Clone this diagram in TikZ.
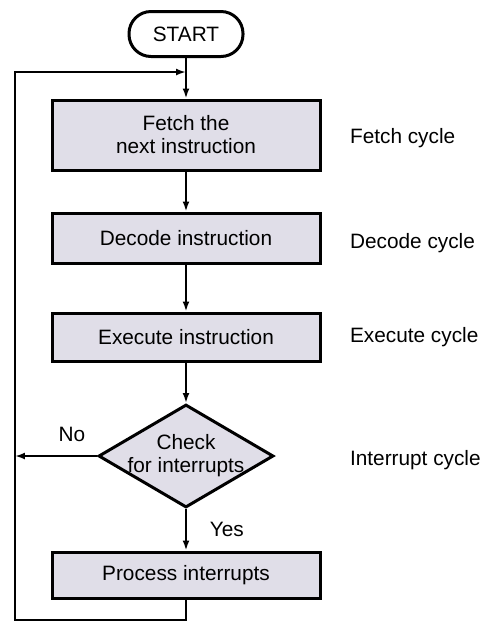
\documentclass[tikz,border=0pt]{standalone}
\usepackage{fontspec}
\setmainfont{Liberation Sans}
\usetikzlibrary{shapes.geometric,arrows.meta}
\definecolor{boxfill}{RGB}{224,222,232}
\begin{document}
\begin{tikzpicture}[x=0.5pt, y=-0.5pt, font=\fontsize{10.4}{11.5}\selectfont,
  blk/.style={draw, line width=1.5pt, fill=boxfill, minimum width=134pt, align=center},
  flow/.style={line width=1.2pt, -{Latex[length=5pt,width=3.5pt]}}]
\useasboundingbox (0,0) rectangle (484,623);
\node[draw, line width=1.5pt, rounded corners=11pt, minimum width=57pt, minimum height=22.5pt] (start) at (186,34) {START};
\node[blk, minimum height=35pt] (fetch) at (186,135) {Fetch the\\next instruction};
\node[blk, minimum height=25pt] (decode) at (186,238) {Decode instruction};
\node[blk, minimum height=24pt] (execute) at (186,337) {Execute instruction};
\node[draw, line width=1.5pt, fill=boxfill, diamond, minimum width=87.5pt, minimum height=51.5pt, inner sep=0pt,
  label={[align=center]center:Check\\for interrupts}] (check) at (186,456) {};
\node[blk, minimum height=23pt] (process) at (186,575) {Process interrupts};
% cycle names on the right
\node[anchor=west] (fetchlbl) at (343,138) {Fetch cycle};
\node[anchor=west] (decodelbl) at (343,243) {Decode cycle};
\node[anchor=west] (executelbl) at (343,337) {Execute cycle};
\node[anchor=west] (intlbl) at (343,460) {Interrupt cycle};
% loop back
\coordinate (join) at (186,72);
\coordinate (looptop) at (15,72);
\coordinate (loopbot) at (15,620);
\draw[flow] (start) -- (fetch);
\draw[flow] (fetch) -- (decode);
\draw[flow] (decode) -- (execute);
\draw[flow] (execute) -- (check);
\draw[flow] (check) -- node[right, xshift=8pt] (yes) {Yes} (process);
\draw[flow] (check.west) -- node[above, xshift=8pt, yshift=3pt] (no) {No} (check.west -| looptop);
\draw[flow] (process.south) |- (loopbot) -- (looptop) -- (join);
\end{tikzpicture}
\end{document}
